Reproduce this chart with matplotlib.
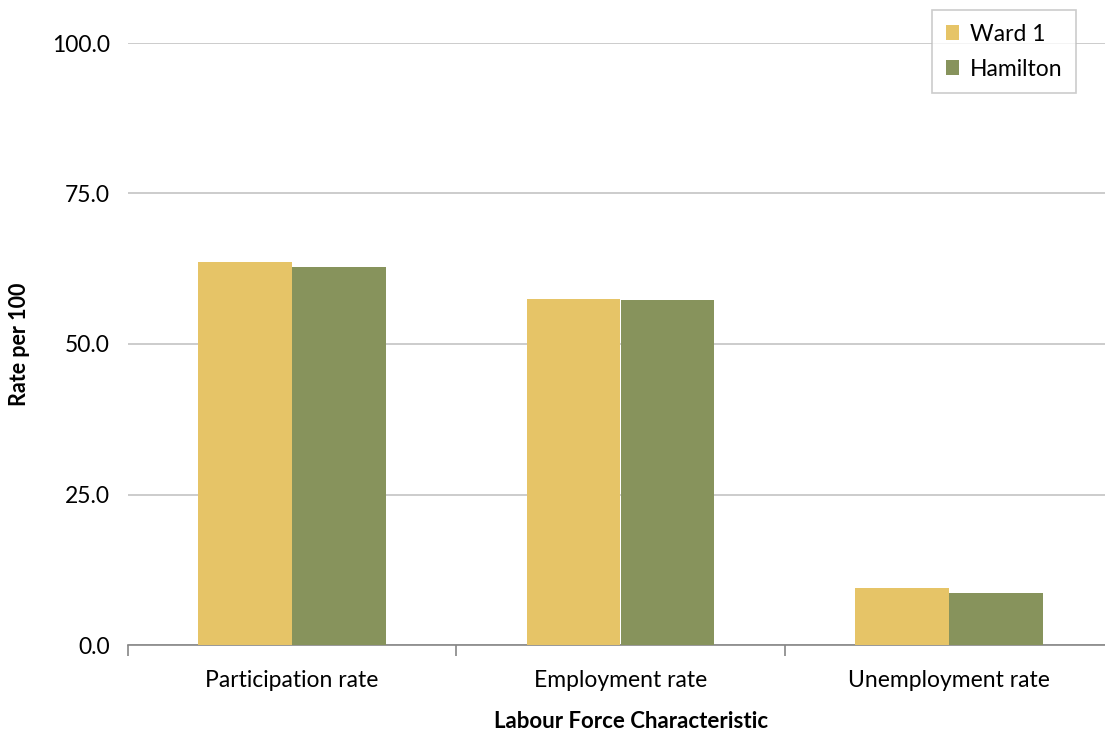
import matplotlib
matplotlib.use("Agg")
import matplotlib.pyplot as plt
import numpy as np

categories = ["Participation rate", "Employment rate", "Unemployment rate"]
ward1 = [63.6, 57.5, 9.5]
hamilton = [62.8, 57.3, 8.7]
yticks = [0, 25, 50, 75, 100]

plt.rcParams["font.family"] = ["Lato", "DejaVu Sans"]

fig = plt.figure(figsize=(11.05, 7.37), dpi=100)
# plot area runs a little past the right edge, as in the reference
ax = fig.add_axes([128 / 1105, 1 - 645 / 737, (1113 - 128) / 1105, (645 - 43) / 737])

x = np.arange(len(categories))
w = 0.286
ax.bar(x - w / 2, ward1, w, color="#E6C467", label="Ward 1", zorder=3)
ax.bar(x + w / 2, hamilton, w, color="#87935C", label="Hamilton", zorder=3)

ax.set_xlim(-0.5, 2.5)
ax.set_ylim(0, 100)
ax.set_yticks(yticks)
ax.set_yticklabels([f"{v:.1f}" for v in yticks], fontsize=16.5)
ax.yaxis.grid(True, color="#C4C4C4", linewidth=1.2, zorder=0)
ax.tick_params(axis="y", length=0, pad=13)

ax.set_xticks(x)
ax.set_xticklabels(categories, fontsize=16.5)
ax.set_xticks([-0.5, 0.5, 1.5, 2.5], minor=True)
ax.tick_params(axis="x", which="major", length=0, pad=18)
ax.tick_params(axis="x", which="minor", length=8, color="#868686", width=1.2)

for s in ["top", "right", "left"]:
    ax.spines[s].set_visible(False)
ax.spines["bottom"].set_color("#868686")
ax.spines["bottom"].set_linewidth(1.2)

# axis titles placed in figure coords
fig.text(20 / 1105, 1 - 344 / 737, "Rate per 100", rotation=90, ha="center", va="center",
         fontsize=15.5, fontweight="bold")
fig.text(631 / 1105, 1 - 722 / 737, "Labour Force Characteristic", ha="center", va="center",
         fontsize=16, fontweight="bold")

leg = fig.legend(loc="upper right", bbox_to_anchor=(1076 / 1105, 1 - 10 / 737),
                 fontsize=16.5, frameon=True, fancybox=False, edgecolor="#BFBFBF",
                 handlelength=0.6, handleheight=0.6, handletextpad=0.45,
                 labelspacing=0.6, borderpad=0.6, borderaxespad=0)
leg.get_frame().set_linewidth(1.2)

fig.savefig("out.png", dpi=100)
